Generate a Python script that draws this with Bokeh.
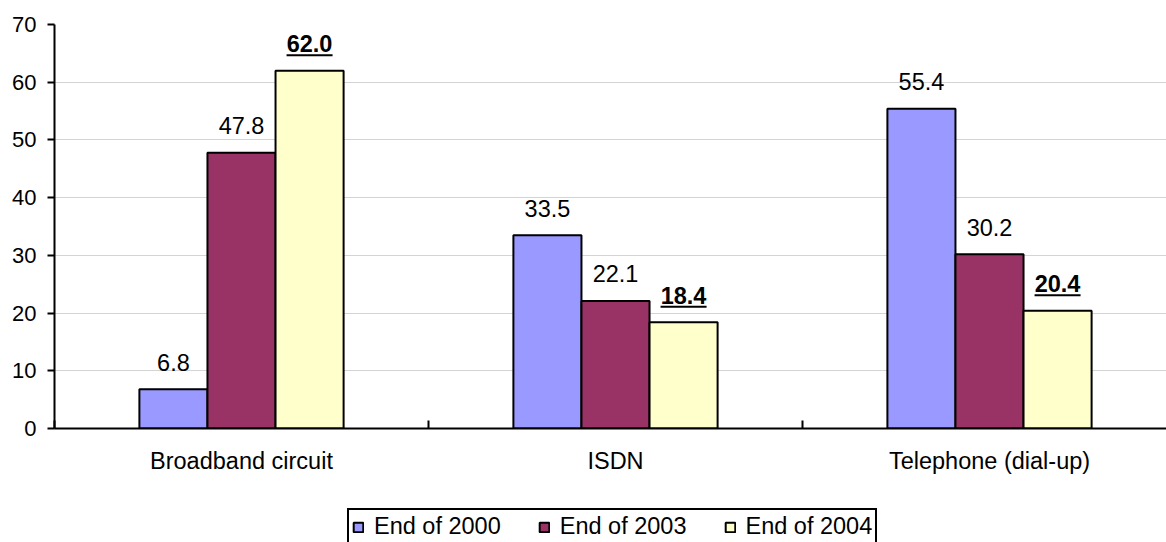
from bokeh.plotting import figure
from bokeh.models import Range1d, FixedTicker, Legend, LegendItem, ColumnDataSource
from bokeh.layouts import column
from bokeh.core.properties import value
from bokeh.embed import file_html
from bokeh.resources import INLINE

categories = ["Broadband circuit", "ISDN", "Telephone (dial-up)"]
series_names = ["End of 2000", "End of 2003", "End of 2004"]
end_2000 = [6.8, 33.5, 55.4]
end_2003 = [47.8, 22.1, 30.2]
end_2004 = [62.0, 18.4, 20.4]
y_ticks = [0, 10, 20, 30, 40, 50, 60, 70]

colors = ["#9999FF", "#993366", "#FFFFCC"]
FONT = "Liberation Sans"
bar_w = 0.182
offsets = [-bar_w, 0.0, bar_w]

W = 1166
H1 = 500          # main chart height
H2 = 42           # legend strip height
BL, BT, BB = 54, 24, 72
frame_h = H1 - BT - BB
px_per_unit = frame_h / 70.0
cat_px = 374.0

p = figure(width=W, height=H1, output_backend="svg", toolbar_location=None,
           x_range=Range1d(0, (W - BL) / cat_px), y_range=Range1d(0, 70),
           min_border_left=BL, min_border_right=0, min_border_top=BT,
           min_border_bottom=BB)
p.outline_line_color = None
p.background_fill_color = "white"
p.border_fill_color = "white"

series = [end_2000, end_2003, end_2004]
for i, (vals, col) in enumerate(zip(series, colors)):
    xs = [k + 0.5 + offsets[i] for k in range(len(categories))]
    src = ColumnDataSource(dict(x=xs, top=vals,
                                lab=["%.1f" % v for v in vals]))
    p.vbar(x="x", top="top", width=bar_w, bottom=0, source=src,
           fill_color=col, line_color="black", line_width=2)
    p.text(x="x", y="top", text="lab", source=src, text_align="center",
           text_baseline="middle", y_offset=-27, text_font=value(FONT),
           text_font_size="23.5px", text_color="black",
           text_font_style="bold" if i == 2 else "normal")
    if i == 2:
        ul_src = ColumnDataSource(dict(
            x0=[x - 23 / cat_px for x in xs], x1=[x + 23 / cat_px for x in xs],
            y=[v + 15.5 / px_per_unit for v in vals]))
        p.segment(x0="x0", x1="x1", y0="y", y1="y", source=ul_src,
                  line_color="black", line_width=2)

# axes
p.xgrid.grid_line_color = None
p.ygrid.grid_line_color = "#d4d4d4"
p.ygrid.grid_line_width = 1
p.yaxis.ticker = FixedTicker(ticks=y_ticks)
p.yaxis.axis_line_color = "black"
p.yaxis.axis_line_width = 2
p.yaxis.major_tick_line_color = "black"
p.yaxis.major_tick_line_width = 2
p.yaxis.major_tick_out = 7
p.yaxis.major_tick_in = 0
p.yaxis.minor_tick_line_color = None
p.yaxis.major_label_standoff = 11
p.yaxis.major_label_text_font = FONT
p.yaxis.major_label_text_font_size = "22px"
p.yaxis.major_label_text_color = "black"

p.xaxis.ticker = FixedTicker(ticks=[k + 0.5 for k in range(len(categories))],
                             minor_ticks=list(range(len(categories) + 1)))
p.xaxis.major_label_overrides = {k + 0.5: c for k, c in enumerate(categories)}
p.xaxis.axis_line_color = "black"
p.xaxis.axis_line_width = 2
p.xaxis.major_tick_line_color = None
p.xaxis.minor_tick_line_color = "black"
p.xaxis.minor_tick_line_width = 2
p.xaxis.minor_tick_in = 8
p.xaxis.minor_tick_out = 0
p.xaxis.major_label_standoff = 13
p.xaxis.major_label_text_font = FONT
p.xaxis.major_label_text_font_size = "23.5px"
p.xaxis.major_label_text_color = "black"

# legend strip: hidden copies of the series supply the legend keys
q = figure(width=W, height=H2, output_backend="svg", toolbar_location=None,
           x_axis_type=None, y_axis_type=None,
           x_range=Range1d(0, 1), y_range=Range1d(0, 1),
           min_border_left=0, min_border_right=0, min_border_top=0,
           min_border_bottom=0)
q.outline_line_color = None
q.grid.grid_line_color = None
q.border_fill_color = "white"
items = []
for name, col, vals in zip(series_names, colors, series):
    r = q.vbar(x=[0.5] * len(vals), top=vals, bottom=0, width=0.1,
               fill_color=col, line_color="black", line_width=2,
               visible=False)
    items.append(LegendItem(label=name, renderers=[r]))

legend = Legend(items=items, orientation="horizontal", location=(293, -3),
                border_line_color="black", border_line_width=2,
                border_line_alpha=1,
                background_fill_color="white", background_fill_alpha=1,
                inactive_fill_alpha=0,
                glyph_width=12, glyph_height=12, label_standoff=10,
                spacing=37, padding=3, margin=0,
                label_text_font=FONT, label_text_font_size="23.5px",
                label_text_color="black")
q.add_layout(legend, "center")

layout = column(p, q, spacing=0)
open("out.html", "w").write(file_html(layout, INLINE))
